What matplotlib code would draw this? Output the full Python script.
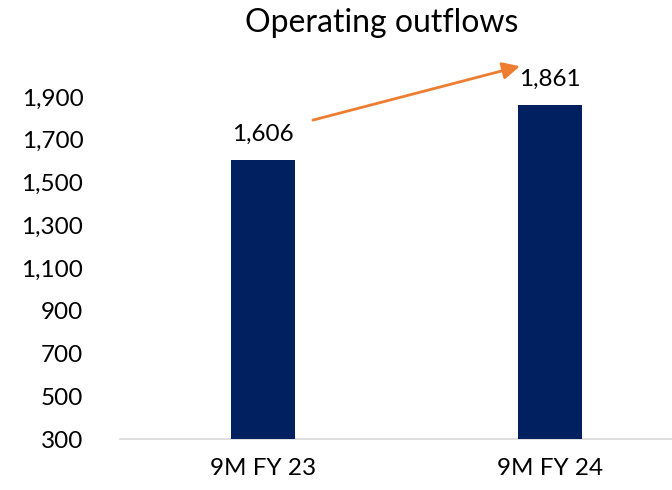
import matplotlib
matplotlib.use("Agg")
import matplotlib.pyplot as plt

periods = ["9M FY 23", "9M FY 24"]
outflows = [1606, 1861]
y_ticks = [300, 500, 700, 900, 1100, 1300, 1500, 1700, 1900]

plt.rcParams['font.family'] = ['Lato', 'DejaVu Sans']

fig = plt.figure(figsize=(6.72, 4.9), dpi=100)
ax = fig.add_axes([119.5 / 672, 51 / 490, 1 - 119.5 / 672, 342 / 490])

x = list(range(len(periods)))
ax.bar(x, outflows, width=0.223, color='#002060', zorder=3)

ax.set_xlim(-0.5, 1.425)
ax.set_ylim(300, 1900)
ax.set_yticks(y_ticks)
ax.set_yticklabels([f"{v:,}" for v in y_ticks])
ax.set_xticks(x)
ax.set_xticklabels(periods)

for side in ['top', 'right', 'left']:
    ax.spines[side].set_visible(False)
ax.spines['bottom'].set_color('#d9d9d9')
ax.spines['bottom'].set_linewidth(1.2)
ax.tick_params(axis='y', length=0, pad=26, labelsize=17.5)
ax.tick_params(axis='x', length=0, pad=14, labelsize=17.5)

# value labels above the bars
for xi, v in zip(x, outflows):
    ax.annotate(f"{v:,}", (xi, v), xytext=(0, 14), textcoords='offset points',
                ha='center', va='baseline', fontsize=17.5, annotation_clip=False)

# growth arrow between the labels
ax.annotate("", xy=(x[1] - 0.105, outflows[1] + 183), xytext=(x[0] + 0.174, outflows[0] + 186),
            arrowprops=dict(arrowstyle='-|>', color='#ed7d31', lw=2, mutation_scale=26,
                            shrinkA=0, shrinkB=0),
            annotation_clip=False)

fig.text(382 / 672, (490 - 32) / 490, "Operating outflows", ha='center', va='baseline', fontsize=23)

fig.savefig("out.png", dpi=100)
